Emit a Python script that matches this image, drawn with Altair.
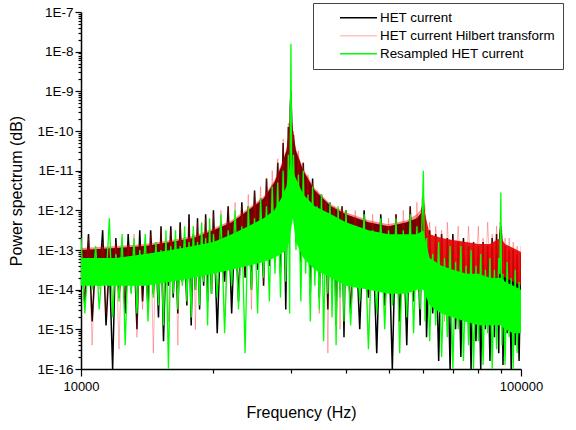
import altair as alt
import pandas as pd

# ---------------- data ----------------
FREQ_HZ = [
    10000, 10200, 10400, 10600, 10800, 11000, 11200, 11400, 11600, 11800,
    12000, 12200, 12400, 12600, 12800, 13000, 13200, 13400, 13600, 13800,
    14000, 14200, 14400, 14600, 14800, 15000, 15200, 15400, 15600, 15800,
    16000, 16200, 16400, 16600, 16800, 17000, 17200, 17400, 17600, 17800,
    18000, 18200, 18400, 18600, 18800, 19000, 19200, 19400, 19600, 19800,
    20000, 20400, 20800, 21200, 21600, 22000, 22400, 22800, 23200, 23600,
    24000, 24400, 24800, 25200, 25600, 26000, 26400, 26800, 27200, 27600,
    28000, 28400, 28800, 29200, 29600, 29800, 29900, 30000, 30100, 30200,
    30400, 30800, 31200, 31600, 32000, 32400, 32800, 33200, 33600, 34000,
    34400, 34800, 35200, 35600, 36000, 36400, 36800, 37200, 37600, 38000,
    38400, 38800, 39200, 39600,
    40000, 41000, 42000, 43000, 44000, 45000, 46000, 47000, 48000, 49000,
    50000, 51000, 52000, 53000, 54000, 55000, 56000, 57000, 58000, 59000,
    59500, 60000, 60500, 61000, 62000, 63000, 64000, 65000, 66000, 67000,
    68000, 69000, 70000, 71000, 72000, 73000, 74000, 75000, 76000, 77000,
    78000, 79000, 80000, 81000, 82000, 83000, 84000, 85000, 86000, 87000,
    88000, 89000, 89500, 90000, 90500, 91000, 92000, 93000, 94000, 95000,
    96000, 97000, 98000, 99000, 100000,
]

# log10 of the power spectrum, one value per frequency above
HET_LOG10 = [
    -13.0, -14.4, -12.6, -14.8, -13.2, -13.9, -12.5, -14.9, -13.3, -16.0,
    -12.7, -14.2, -13.1, -14.6, -12.6, -14.0, -12.9, -15.0, -12.5, -14.3,
    -13.0, -14.5, -12.5, -14.1, -12.9, -14.7, -12.4, -15.3, -13.0, -13.9,
    -12.4, -14.2, -12.8, -14.6, -12.3, -13.8, -12.9, -14.4, -12.1, -14.9,
    -12.6, -14.0, -12.2, -14.5, -12.7, -13.9, -12.1, -14.3, -12.5, -14.1,
    -12.0, -15.1, -12.3, -13.8, -11.9, -14.6, -12.2, -14.3, -11.8, -13.7,
    -11.9, -14.0, -11.5, -13.5, -11.7, -13.9, -11.2, -13.4, -11.4, -13.0,
    -10.8, -13.6, -10.3, -14.5, -9.9, -12.5, -9.4, -9.0, -9.6, -10.5,
    -10.1, -12.8, -10.7, -13.3, -10.8, -13.0, -11.4, -14.1, -11.2, -13.5,
    -11.7, -14.2, -11.6, -13.6, -12.1, -14.5, -11.8, -13.8, -12.2, -14.9,
    -12.1, -14.0, -11.9, -15.2,
    -12.0, -14.6, -12.3, -15.0, -12.0, -14.2, -12.4, -15.6, -12.1, -14.4,
    -12.5, -16.0, -12.1, -14.8, -12.4, -15.4, -11.9, -14.3, -12.2, -14.9,
    -12.0, -11.8, -12.3, -15.2, -12.5, -14.6, -12.6, -15.8, -12.6, -14.5,
    -12.7, -16.0, -12.6, -15.0, -12.8, -15.7, -12.7, -14.8, -12.9, -16.0,
    -12.8, -15.3, -12.9, -16.0, -12.8, -15.0, -12.9, -15.8, -12.7, -15.2,
    -12.6, -15.6, -12.6, -12.4, -12.8, -15.9, -12.9, -15.1, -13.0, -16.0,
    -13.0, -15.4, -13.1, -15.8, -13.1,
]

HILBERT_LOG10 = [
    -12.9, -14.2, -12.7, -15.4, -13.0, -14.0, -12.8, -14.6, -13.0, -14.3,
    -12.8, -15.5, -12.7, -14.4, -12.9, -14.1, -12.6, -15.2, -13.0, -14.5,
    -12.7, -14.3, -12.6, -15.6, -12.8, -14.2, -12.5, -14.4, -12.7, -14.8,
    -12.5, -14.1, -12.6, -15.4, -12.4, -13.9, -12.6, -14.3, -12.3, -14.7,
    -12.4, -15.0, -12.3, -14.2, -12.5, -13.8, -12.2, -14.5, -12.3, -14.0,
    -12.1, -14.1, -12.0, -14.9, -11.9, -13.6, -11.8, -14.2, -11.9, -13.6,
    -11.6, -14.5, -11.5, -13.3, -11.4, -13.8, -11.2, -13.2, -11.0, -12.9,
    -10.7, -13.0, -10.2, -12.4, -9.8, -11.6, -9.3, -9.1, -9.5, -10.3,
    -10.0, -12.6, -10.5, -13.6, -10.8, -12.9, -11.1, -14.4, -11.3, -13.3,
    -11.5, -14.6, -11.7, -13.5, -11.8, -15.6, -11.9, -13.7, -11.9, -14.2,
    -12.0, -15.0, -11.9, -13.9,
    -12.0, -14.3, -12.0, -13.9, -12.1, -15.3, -12.1, -14.0, -12.2, -14.6,
    -12.2, -14.2, -12.1, -15.0, -12.0, -13.8, -11.9, -14.1, -11.8, -13.6,
    -11.7, -11.6, -11.9, -13.4, -12.3, -13.8, -12.4, -13.5, -12.5, -14.8,
    -12.3, -13.6, -12.7, -13.3, -12.4, -14.0, -12.8, -13.5, -12.4, -13.7,
    -12.8, -13.4, -12.4, -14.2, -12.7, -13.6, -12.3, -13.5, -12.6, -13.8,
    -12.4, -13.5, -12.3, -12.4, -12.5, -13.6, -12.7, -13.9, -12.7, -13.7,
    -12.8, -13.8, -12.9, -14.0, -12.9,
]

RESAMPLED_LOG10 = [
    -12.7, -14.6, -13.2, -14.0, -12.9, -14.5, -13.3, -13.8, -12.2, -14.7,
    -13.1, -14.3, -12.6, -15.4, -13.2, -14.1, -12.7, -14.6, -13.0, -13.9,
    -12.6, -14.8, -13.1, -14.2, -12.8, -14.4, -13.0, -14.9, -12.5, -16.0,
    -12.9, -14.1, -12.5, -14.5, -12.9, -13.9, -12.4, -14.3, -12.8, -14.7,
    -12.4, -14.0, -12.8, -14.4, -12.3, -13.8, -12.7, -14.9, -12.2, -14.1,
    -12.6, -14.2, -12.1, -15.1, -12.5, -13.9, -12.0, -14.5, -12.4, -15.6,
    -11.9, -14.0, -12.2, -14.6, -11.7, -13.7, -11.9, -14.3, -11.4, -13.6,
    -11.3, -14.2, -11.0, -13.8, -10.6, -14.6, -10.3, -7.8, -10.4, -12.2,
    -10.6, -13.0, -11.1, -14.3, -11.0, -13.6, -11.6, -14.8, -11.4, -13.9,
    -11.9, -14.5, -11.6, -15.3, -12.1, -14.1, -11.8, -14.7, -12.2, -15.4,
    -11.9, -14.2, -12.3, -14.8,
    -12.0, -14.9, -12.4, -14.3, -12.1, -15.5, -12.5, -14.6, -12.2, -15.0,
    -12.5, -14.4, -12.2, -15.6, -12.5, -14.7, -12.1, -15.1, -12.4, -14.5,
    -12.5, -11.0, -14.8, -12.7, -15.3, -13.1, -14.9, -12.8, -15.7, -13.2,
    -15.2, -12.9, -16.0, -13.3, -15.0, -12.9, -15.8, -13.4, -15.4, -13.0,
    -16.0, -13.4, -15.3, -13.1, -15.9, -13.5, -15.1, -13.2, -16.0, -13.5,
    -15.5, -13.2, -13.6, -11.55, -15.4, -13.6, -15.9, -13.3, -15.2, -13.7,
    -16.0, -13.5, -15.6, -13.8, -15.0,
]

# dense core of each noisy trace (log10 upper / lower edge)
BAND_FREQ = [
    10000, 12000, 14000, 16000, 18000, 20000, 22000, 24000, 26000, 27500,
    28500, 29300, 29700, 30000, 30300, 30800, 32000, 34000, 37000, 40000,
    45000, 50000, 55000, 58000, 60000, 62000, 66000, 70000, 75000, 80000,
    85000, 88000, 90000, 92000, 96000, 100000,
]
HET_CORE_HI = [
    -13.0, -12.95, -12.9, -12.8, -12.7, -12.5, -12.3, -12.0, -11.7, -11.3,
    -10.9, -10.5, -10.0, -9.5, -10.0, -10.5, -11.0, -11.5, -11.9, -12.1,
    -12.3, -12.4, -12.3, -12.2, -12.0, -13.3, -13.4, -13.4, -13.5, -13.5,
    -13.6, -13.5, -13.4, -13.6, -13.7, -13.8,
]
HET_CORE_LO = [
    -13.8, -13.8, -13.7, -13.7, -13.6, -13.4, -13.2, -13.0, -12.8, -12.5,
    -12.2, -11.8, -11.5, -11.0, -11.5, -12.0, -12.6, -13.0, -13.3, -13.5,
    -13.6, -13.7, -13.6, -13.5, -13.4, -14.3, -14.4, -14.5, -14.5, -14.6,
    -14.6, -14.6, -14.5, -14.6, -14.7, -14.8,
]
HILBERT_CORE_HI = [
    -12.95, -12.9, -12.85, -12.75, -12.65, -12.45, -12.25, -11.95, -11.65, -11.25,
    -10.85, -10.45, -9.95, -9.5, -9.95, -10.45, -10.95, -11.45, -11.85, -12.05,
    -12.25, -12.35, -12.25, -12.1, -11.9, -12.6, -12.7, -12.75, -12.8, -12.85,
    -12.85, -12.75, -12.7, -12.85, -12.95, -13.05,
]
HILBERT_CORE_LO = [
    -13.7, -13.7, -13.6, -13.6, -13.5, -13.3, -13.1, -12.9, -12.7, -12.4,
    -12.1, -11.7, -11.4, -10.9, -11.4, -11.9, -12.5, -12.9, -13.2, -13.4,
    -13.5, -13.6, -13.5, -13.4, -13.3, -13.5, -13.6, -13.6, -13.7, -13.7,
    -13.7, -13.7, -13.6, -13.7, -13.8, -13.9,
]
RESAMPLED_CORE_HI = [
    -13.2, -13.2, -13.1, -13.0, -12.9, -12.8, -12.6, -12.4, -12.2, -12.0,
    -11.7, -11.4, -11.0, -10.8, -11.0, -11.2, -11.6, -11.9, -12.1, -12.3,
    -12.5, -12.6, -12.6, -12.6, -12.5, -13.2, -13.4, -13.5, -13.6, -13.6,
    -13.7, -13.7, -13.7, -13.8, -13.9, -14.0,
]
RESAMPLED_CORE_LO = [
    -13.9, -13.9, -13.9, -13.8, -13.7, -13.6, -13.5, -13.4, -13.3, -13.2,
    -13.1, -13.0, -12.8, -12.5, -12.2, -12.8, -13.2, -13.5, -13.7, -13.9,
    -14.0, -14.1, -14.1, -14.0, -14.0, -14.4, -14.6, -14.7, -14.8, -14.9,
    -14.9, -14.9, -14.9, -15.0, -15.1, -15.1,
]

SERIES = ["HET current", "HET current Hilbert transform", "Resampled HET current"]
LEGEND_COLORS = ["#000000", "#ffc4c4", "#00ff00"]

X_LABEL_TICKS = [10000, 100000]
X_MINOR_TICKS = [20000, 30000, 40000, 50000, 60000, 70000, 80000, 90000]
Y_DECADES = [1e-16, 1e-15, 1e-14, 1e-13, 1e-12, 1e-11, 1e-10, 1e-9, 1e-8, 1e-7]
Y_MINOR_TICKS = [m * d for d in Y_DECADES[:-1] for m in range(2, 10)]

# ---------------- tables ----------------
rows = []
for name, vals in zip(SERIES, [HET_LOG10, HILBERT_LOG10, RESAMPLED_LOG10]):
    assert len(vals) == len(FREQ_HZ), (name, len(vals), len(FREQ_HZ))
    for f, v in zip(FREQ_HZ, vals):
        rows.append({"series": name, "freq": f, "power": 10.0 ** v})
df = pd.DataFrame(rows)

brows = []
for name, his, los in zip(SERIES, [HET_CORE_HI, HILBERT_CORE_HI, RESAMPLED_CORE_HI],
                          [HET_CORE_LO, HILBERT_CORE_LO, RESAMPLED_CORE_LO]):
    assert len(his) == len(BAND_FREQ) and len(los) == len(BAND_FREQ), name
    for f, h, l in zip(BAND_FREQ, his, los):
        brows.append({"series": name, "freq": f, "hi": 10.0 ** h, "lo": 10.0 ** l})
bdf = pd.DataFrame(brows)

FONT = "Liberation Sans"
x_scale = alt.Scale(type="log", domain=[10000, 100000], nice=False)
y_scale = alt.Scale(type="log", domain=[1e-16, 1e-7], nice=False)

color_enc = alt.Color("series:N", scale=alt.Scale(domain=SERIES, range=LEGEND_COLORS),
                      legend=alt.Legend(title=None))

x_major = alt.Axis(values=X_LABEL_TICKS, format="d", tickSize=7, labelPadding=4,
                   labelFontSize=13, labelFlush=False, title="Frequency (Hz)",
                   titleFontSize=16, titlePadding=11, orient="bottom")
y_major = alt.Axis(values=Y_DECADES, labelExpr="'1E' + round(log(datum.value) / LN10)",
                   tickSize=6, labelPadding=2, labelFontSize=13.5,
                   title="Power spectrum (dB)", titleFontSize=16, titlePadding=12,
                   orient="left")
x_minor = alt.Axis(values=X_MINOR_TICKS, labels=False, domain=False, tickSize=4,
                   title=None, orient="bottom")
y_minor = alt.Axis(values=Y_MINOR_TICKS, labels=False, domain=False, tickSize=3,
                   title=None, orient="left")


def band(name, color, opacity, fmin=None, fmax=None):
    c = alt.Chart(bdf).transform_filter(alt.datum.series == name)
    if fmin is not None:
        c = c.transform_filter(alt.datum.freq >= fmin)
    if fmax is not None:
        c = c.transform_filter(alt.datum.freq <= fmax)
    return c.mark_area(clip=True, color=color, opacity=opacity).encode(
        x=alt.X("freq:Q", scale=x_scale, axis=None),
        y=alt.Y("hi:Q", scale=y_scale, axis=None),
        y2="lo:Q",
    )


def trace(name, width, xa=None, ya=None, color=None, opacity=1.0):
    enc = dict(
        x=alt.X("freq:Q", scale=x_scale, axis=xa),
        y=alt.Y("power:Q", scale=y_scale, axis=ya),
        order=alt.Order("freq:Q"),
    )
    if color is None:
        enc["color"] = color_enc
    mark = dict(clip=True, strokeJoin="bevel", strokeWidth=width, opacity=opacity)
    if color is not None:
        mark["color"] = color
    return alt.Chart(df).transform_filter(alt.datum.series == name).mark_line(**mark).encode(**enc)


layers = [
    band(SERIES[0], "#000000", 1.0),
    trace(SERIES[0], 1.5, x_major, y_major),
    band(SERIES[1], "#ff0000", 0.45, fmax=60000),
    band(SERIES[1], "#e00000", 0.9, fmin=60000),
    trace(SERIES[1], 1.0, color="#ff0000", opacity=0.3),
    band(SERIES[2], "#00ff00", 1.0),
    trace(SERIES[2], 1.3),
    alt.Chart(df).transform_filter(alt.datum.series == SERIES[0]).mark_point(
        opacity=0, size=1
    ).encode(
        x=alt.X("freq:Q", scale=x_scale, axis=x_minor),
        y=alt.Y("power:Q", scale=y_scale, axis=y_minor),
    ),
]

chart = alt.layer(*layers).resolve_axis(
    x="independent", y="independent"
).properties(
    width=440,
    height=357,
    autosize=alt.AutoSizeParams(type="none"),
    padding={"left": 81, "top": 12, "right": 55, "bottom": 61},
).configure(
    font=FONT,
).configure_view(
    strokeOpacity=0,
).configure_axis(
    grid=False,
    domainColor="#000000",
    domainWidth=1.5,
    tickColor="#000000",
    tickWidth=1.2,
    labelColor="#000000",
    titleColor="#000000",
    titleFontWeight="normal",
    labelFont=FONT,
    titleFont=FONT,
).configure_legend(
    orient="none",
    legendX=232,
    legendY=-9,
    strokeColor="#444444",
    fillColor="#ffffff",
    padding=8,
    symbolType="stroke",
    symbolSize=1369,
    symbolStrokeWidth=1.5,
    symbolOffset=18,
    labelOffset=2,
    clipHeight=13.4,
    labelFontSize=13.4,
    labelFont=FONT,
    labelColor="#000000",
    rowPadding=3,
    labelLimit=400,
)

chart.save("out.html", embed_options={"renderer": "svg", "actions": False})
